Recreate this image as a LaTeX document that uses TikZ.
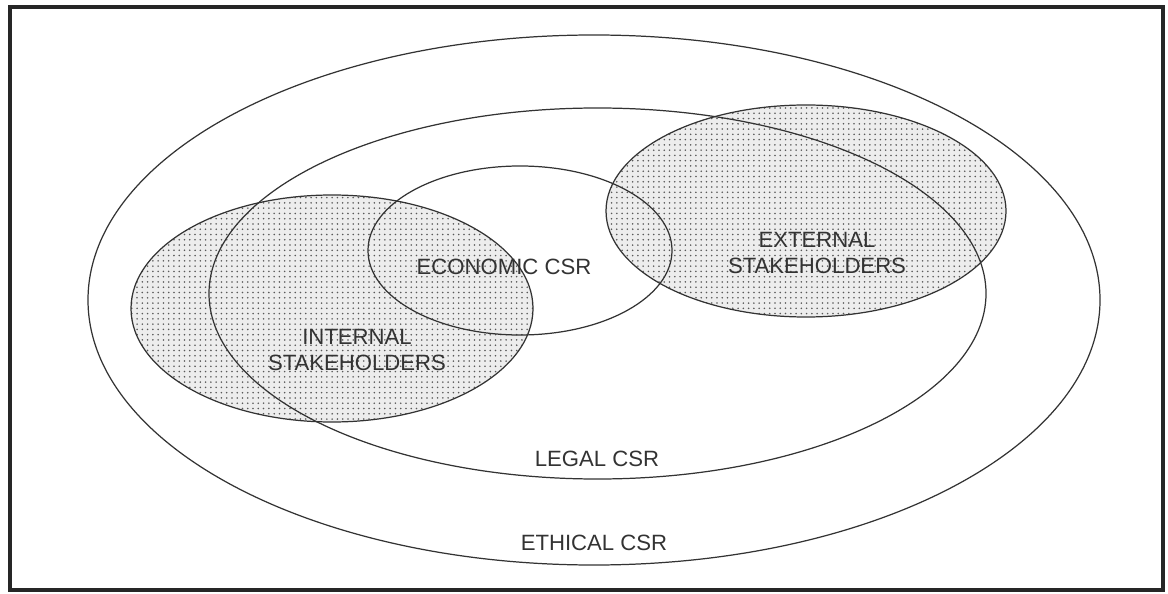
\documentclass[tikz,border=0pt]{standalone}
\usepackage{fontspec}
\setmainfont{Liberation Sans}
\usetikzlibrary{patterns}
\begin{document}
\begin{tikzpicture}[line width=0.7pt,
	lbl/.style={font=\fontsize{12.6}{14.8}\selectfont,text=black!80,align=center,inner sep=0pt},
	holders/.style={fill=gray!14}]
		\useasboundingbox (0,0) rectangle (23.36,11.86);
		\draw [line width=2pt,black!85] (0.2,0.06) rectangle (23.26,11.72);
		% stakeholder areas
		\fill [holders] (6.64,5.69) ellipse (4.02 and 2.27);
		\fill [pattern=dots,pattern color=black!65] (6.64,5.69) ellipse (4.02 and 2.27);
		\fill [holders] (16.12,7.64) ellipse (4.00 and 2.12);
		\fill [pattern=dots,pattern color=black!65] (16.12,7.64) ellipse (4.00 and 2.12);
		% outlines
		\draw [black!80] (11.88,5.86) ellipse (10.12 and 5.30);
		\draw [black!80] (11.95,5.99) ellipse (7.77 and 3.71);
		\draw [black!80] (10.40,6.85) ellipse (3.04 and 1.69);
		\draw [black!80] (6.64,5.69) ellipse (4.02 and 2.27);
		\draw [black!80] (16.12,7.64) ellipse (4.00 and 2.12);
		\node [lbl] (econ) at (10.08,6.52) {ECONOMIC CSR};
		\node [lbl] (intern) at (7.14,4.86) {INTERNAL\\STAKEHOLDERS};
		\node [lbl] (extern) at (16.34,6.80) {EXTERNAL\\STAKEHOLDERS};
		\node [lbl] (legal) at (11.94,2.68) {LEGAL CSR};
		\node [lbl] (ethic) at (11.88,1.00) {ETHICAL CSR};
\end{tikzpicture}
\end{document}
